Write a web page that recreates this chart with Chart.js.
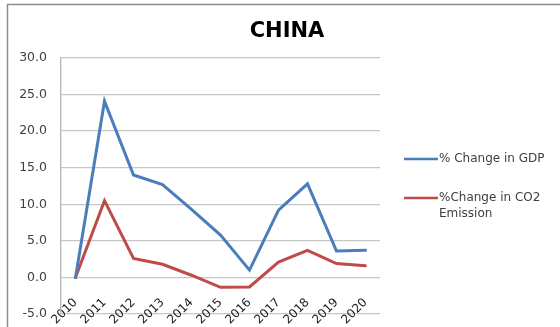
<!DOCTYPE html>
<html>
<head>
<meta charset="utf-8">
<script src="https://cdn.jsdelivr.net/npm/chart.js@4/dist/chart.umd.min.js"></script>
<style>
  html, body { margin: 0; padding: 0; background: #ffffff; }
  #wrap { width: 560px; height: 327px; position: relative; }
</style>
</head>
<body>
<div id="wrap"><canvas id="chart" width="560" height="327"></canvas></div>
<script>
// Year-on-year percentage changes for China
const chartTitle = 'CHINA';
const years = ['2010', '2011', '2012', '2013', '2014', '2015', '2016', '2017', '2018', '2019', '2020'];
const gdpChange = [0.0, 24.1, 14.0, 12.7, 9.3, 5.8, 1.0, 9.2, 12.8, 3.6, 3.7];
const co2Change = [0.0, 10.5, 2.6, 1.8, 0.3, -1.35, -1.3, 2.1, 3.7, 1.9, 1.6];
const seriesNames = ['% Change in GDP', '%Change in CO2 Emission'];
const yTicks = [-5, 0, 5, 10, 15, 20, 25, 30];

const BLUE = '#4a7ebb';
const RED = '#be4b48';
const GRID = '#c6c6c6';
const TEXT = '#404040';

// Outer frame, title and the wrapped legend on the right
const decorations = {
  id: 'decorations',
  afterDraw(chart) {
    const { ctx, chartArea } = chart;
    ctx.save();
    // frame edges
    ctx.strokeStyle = '#8c8c8c';
    ctx.lineWidth = 1.5;
    ctx.beginPath();
    ctx.moveTo(7.5, 327);
    ctx.lineTo(7.5, 4.5);
    ctx.lineTo(560, 4.5);
    ctx.stroke();

    // title
    ctx.fillStyle = '#000000';
    ctx.font = 'bold 21px "DejaVu Sans"';
    ctx.textAlign = 'center';
    ctx.textBaseline = 'alphabetic';
    ctx.fillText(chartTitle, 287, 37);

    // legend
    ctx.font = '12px "DejaVu Sans"';
    ctx.textAlign = 'left';
    ctx.textBaseline = 'middle';
    const x0 = chartArea.right + 24;
    const lineLen = 34;
    const maxW = 118;
    const starts = [159, 198];
    chart.data.datasets.forEach((ds, i) => {
      const words = ds.label.split(' ');
      const lines = [];
      let cur = '';
      words.forEach(w => {
        const test = cur ? cur + ' ' + w : w;
        if (ctx.measureText(test).width > maxW && cur) { lines.push(cur); cur = w; }
        else cur = test;
      });
      if (cur) lines.push(cur);
      const y = starts[i];
      ctx.strokeStyle = ds.borderColor;
      ctx.lineWidth = 2.5;
      ctx.beginPath();
      ctx.moveTo(x0, y);
      ctx.lineTo(x0 + lineLen, y);
      ctx.stroke();
      ctx.fillStyle = TEXT;
      lines.forEach((ln, k) => ctx.fillText(ln, x0 + lineLen + 1, y + k * 15.5));
    });
    ctx.restore();
  }
};

new Chart(document.getElementById('chart'), {
  type: 'line',
  data: {
    labels: years,
    datasets: [
      { label: seriesNames[0], data: gdpChange, borderColor: BLUE, backgroundColor: BLUE },
      { label: seriesNames[1], data: co2Change, borderColor: RED, backgroundColor: RED }
    ]
  },
  options: {
    responsive: false,
    animation: false,
    devicePixelRatio: 1,
    layout: { padding: { top: 58, left: 0, right: 180, bottom: 13 } },
    elements: {
      line: { borderWidth: 3, tension: 0, borderCapStyle: 'round', borderJoinStyle: 'miter' },
      point: { radius: 0, hoverRadius: 0 }
    },
    plugins: {
      legend: { display: false },
      title: { display: false },
      tooltip: { enabled: false }
    },
    scales: {
      x: {
        type: 'category',
        position: { y: 0 },
        offset: true,
        grid: { display: false, drawTicks: false },
        border: { display: false },
        ticks: {
          minRotation: 45,
          maxRotation: 45,
          padding: 18,
          color: '#222222',
          font: { family: 'DejaVu Sans', size: 12 }
        }
      },
      y: {
        min: -5,
        max: 30,
        afterBuildTicks(scale) { scale.ticks = yTicks.map(v => ({ value: v })); },
        afterFit(scale) { scale.width = 61; },
        // invisible tick marks keep the labels clear of the axis line
        grid: { color: GRID, lineWidth: 1.3, drawTicks: true, tickLength: 14, tickColor: 'rgba(0,0,0,0)' },
        border: { display: true, color: '#b5b5b5', width: 1.3 },
        ticks: {
          padding: 0,
          color: TEXT,
          font: { family: 'DejaVu Sans', size: 12.5 },
          callback: v => Number(v).toFixed(1)
        }
      }
    }
  },
  plugins: [decorations]
});
</script>
</body>
</html>
